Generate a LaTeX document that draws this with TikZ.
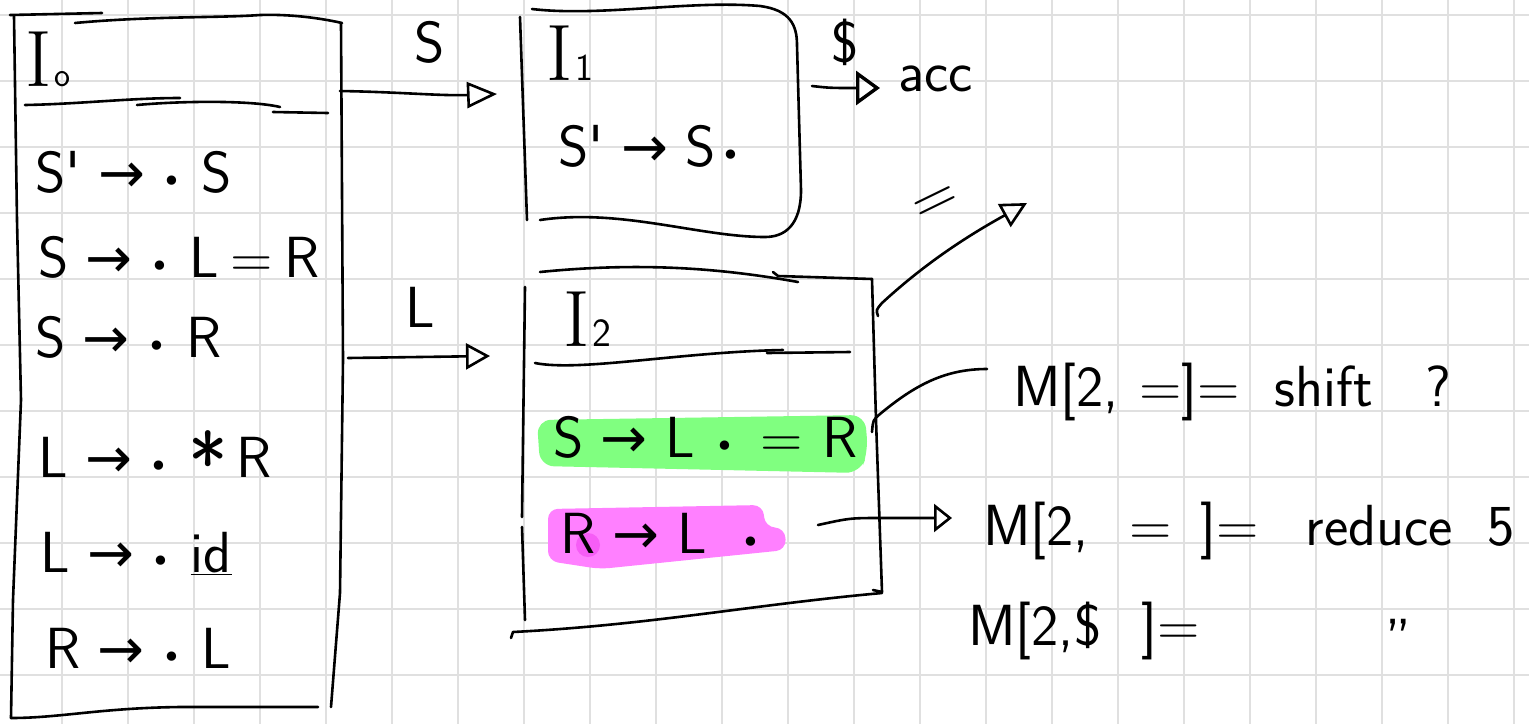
\documentclass[tikz,border=0pt]{standalone}
\usepackage{fontspec}
\newfontfamily\symf{DejaVu Sans}
\usetikzlibrary{arrows.meta}
\newcommand\arw{\hspace{0.3em}{\symf\fontsize{56}{56}\selectfont →}\hspace{0.3em}}
\newcommand\hwdot{{\symf\fontsize{32}{32}\selectfont •}\hspace{0.35em}}
\newcommand\hwast{\raisebox{-16pt}{\fontsize{84}{84}\selectfont *}\hspace{0.15em}}
\definecolor{gridc}{RGB}{224,224,224}
\definecolor{hlgreen}{RGB}{128,255,128}
\definecolor{hlpink}{RGB}{255,128,255}
\definecolor{hlpinkd}{RGB}{240,70,240}
\tikzset{
  ink/.style={line width=2.6pt, line cap=round, line join=round},
  hw/.style={font=\sffamily\fontsize{58}{60}\selectfont, inner sep=0pt, anchor=base west},
  hwI/.style={font=\rmfamily\fontsize{80}{80}\selectfont, inner sep=0pt, anchor=base west},
  openhead/.style={-{Triangle[open, length=#1, width=26pt, line width=2.6pt]}},
}
\begin{document}
\begin{tikzpicture}[x=1pt,y=-1pt]
\useasboundingbox (0,0) rectangle (1529,724);
\fill[white] (0,0) rectangle (1529,724);
% grid
\foreach \gx in {62,128,...,1520} \draw[gridc, line width=2pt] (\gx,0) -- (\gx,724);
\foreach \gy in {15,81,...,700} \draw[gridc, line width=2pt] (0,\gy) -- (1529,\gy);

% ---------- box I0 ----------
\draw[ink] (10,15) -- (102,13);
\draw[ink] (75,23) .. controls (150,16) and (220,18) .. (260,15) .. controls (290,14) and (320,18) .. (342,23);
\draw[ink] (14,16) -- (17,220) -- (21,400) -- (13,600) -- (11,718);
\draw[ink] (11,718) .. controls (60,718) and (100,708) .. (180,707) -- (318,707);
\draw[ink] (341,23) -- (343,360) -- (340,593) -- (331,707);
\draw[ink] (25,105) .. controls (80,104) and (130,98) .. (180,98);
\draw[ink] (137,105) .. controls (180,101) and (250,100) .. (280,107);
\draw[ink] (273,112) -- (328,113);
\node[hwI] (I0t) at (25,86) {I\kern3pt{\sffamily\fontsize{34}{34}\selectfont o}};
\node[hw] (i01) at (35,192) {S\textquotesingle\arw\hwdot S};
\node[hw] (i02) at (38,277) {S\arw\hwdot L\hspace{0.2em}=\hspace{0.2em}R};
\node[hw] (i03) at (35,357) {S\arw\hwdot R};
\node[hw] (i04) at (38,477) {L\arw\hwdot\hwast R};
\node[hw] (i05) at (40,572) {L\arw\hwdot\underline{id}};
\node[hw] (i06) at (45,668) {R\arw\hwdot L};

% ---------- box I1 ----------
\draw[ink] (520,17) -- (527,220);
\draw[ink] (532,9) .. controls (600,17) and (690,0) .. (760,6) .. controls (790,10) and (797,25) .. (797,45) -- (801,190) .. controls (801,225) and (785,237) .. (765,237) .. controls (700,237) and (620,208) .. (540,220);
\node[hwI] (I1t) at (546,80) {I\kern3pt{\sffamily\fontsize{38}{38}\selectfont 1}};
\node[hw] (i11) at (558,166) {S\textquotesingle\arw S\hspace{0.1em}\hwdot};

% ---------- box I2 ----------
\fill[hlgreen, rounded corners=14pt] (537,420) -- (865,415) -- (868,452) -- (860,473) -- (540,466) -- cycle;
\fill[hlpink, rounded corners=10pt] (548,509) -- (763,505) -- (765,527) -- (785,528) -- (786,550) -- (600,569) -- (548,561) -- cycle;
\fill[hlpinkd, opacity=0.6] (588,545) circle (12pt);
\draw[ink] (540,272) .. controls (640,262) and (720,268) .. (798,282);
\draw[ink] (773,272) -- (778,276) -- (872,279);
\draw[ink] (872,279) -- (876,420) -- (882,592) -- (873,590);
\draw[ink] (882,593) .. controls (750,605) and (650,625) .. (513,632) -- (511,638);
\draw[ink] (525,287) -- (522,517);
\draw[ink] (522,527) -- (525,620);
\draw[ink] (535,363) .. controls (580,372) and (680,352) .. (783,350);
\draw[ink] (767,353) -- (850,352);
\node[hwI] (I2t) at (563,346) {I\kern3pt{\sffamily\fontsize{40}{40}\selectfont 2}};
\node[hw] (i21) at (553,457) {S\arw L\hspace{0.35em}\hwdot\hspace{0.1em}=\hspace{0.35em}R};
\node[hw] (i22) at (560,553) {R\arw L\hspace{0.6em}\hwdot};

% ---------- transitions ----------
\coordinate (aS0) at (340,91);
\coordinate (aS1) at (497,94);
\draw[ink, openhead=30pt] (aS0) .. controls (400,92) and (440,96) .. (aS1);
\node[hw] (lS) at (414,62) {S};

\coordinate (aL0) at (348,358);
\coordinate (aL1) at (490,356);
\draw[ink, openhead=24pt] (aL0) -- (aL1);
\node[hw] (lL) at (405,327) {L};

\coordinate (acc0) at (812,86);
\coordinate (acc1) at (880,88);
\draw[ink, -{Triangle[open, length=24pt, width=34pt, line width=3.4pt]}] (acc0) .. controls (830,88) .. (acc1);
\node[hw, anchor=center] (ldol) at (845,42) {\$};
\node[hw] (acc) at (898,91) {acc};

\coordinate (eq0) at (878,316);
\coordinate (eq1) at (1027,203);
\draw[ink, openhead=26pt] (eq0) .. controls (876,310) .. (882,303) .. controls (920,268) and (960,240) .. (eq1);
\node[font=\sffamily\fontsize{62}{62}\selectfont, inner sep=0pt, rotate=26] (leq) at (937,205) {=};

% ---------- right side ----------
\coordinate (sh0) at (872,432);
\coordinate (sh1) at (987,369);
\draw[ink] (sh0) .. controls (873,420) .. (880,414) .. controls (915,385) and (945,369) .. (sh1);
\node[hw] (t1) at (1013,406) {M[2,\hspace{0.35em}=]=\hspace{0.6em}shift\hspace{0.9em}?};

\coordinate (rd0) at (818,525);
\coordinate (rd1) at (952,518);
\draw[ink, -{Triangle[open, length=18pt, width=28pt, line width=2.6pt]}] (rd0) .. controls (850,518) .. (882,518) -- (rd1);
\node[hw] (t2) at (983,545) {M[2,\hspace{0.7em}=\hspace{0.5em}]=\hspace{0.8em}reduce\hspace{0.6em}5};

\node[hw] (t3) at (968,645) {M[2,\$\hspace{0.7em}]={\hspace{3.2em}}\raisebox{-14pt}{"}};
\end{tikzpicture}
\end{document}
